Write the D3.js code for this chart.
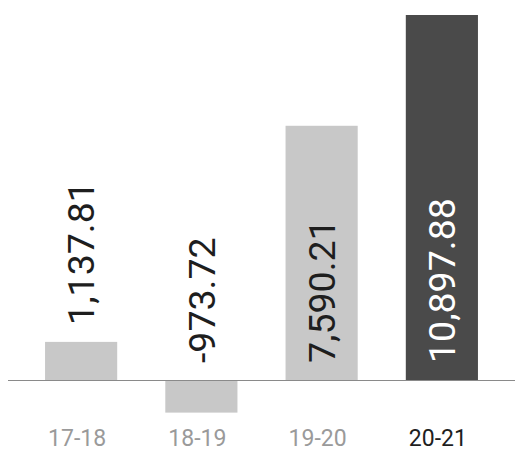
<!DOCTYPE html>
<html>
<head>
<meta charset="utf-8">
<script src="https://cdn.jsdelivr.net/npm/d3@7"></script>
<style>
  html, body { margin: 0; padding: 0; background: #fff; }
  svg { display: block; }
  text { font-family: Roboto, "Noto Sans", sans-serif; }
</style>
</head>
<body>
<svg id="chart" width="515" height="449"></svg>
<script>
const categories = ["17-18", "18-19", "19-20", "20-21"];
const values = [1137.81, -973.72, 7590.21, 10897.88];
const highlighted = ["20-21"];

const W = 515, H = 449;
const svg = d3.select("#chart");

const x = d3.scaleBand()
  .domain(categories)
  .range([21, 502])
  .paddingInner(0.4)
  .paddingOuter(0.2);

const y = d3.scaleLinear()
  .domain([0, 10897.88])
  .range([380, 15]);

const fmt = d3.formatLocale({decimal: ".", thousands: ",", grouping: [3], currency: ["", ""], minus: "-"}).format(",.2f");
const isHi = c => highlighted.includes(c);

// bars
svg.selectAll("rect.bar")
  .data(categories)
  .join("rect")
  .attr("class", "bar")
  .attr("x", c => x(c))
  .attr("width", x.bandwidth())
  .attr("y", (c, i) => Math.min(y(values[i]), y(0)))
  .attr("height", (c, i) => Math.abs(y(values[i]) - y(0)))
  .attr("fill", c => isHi(c) ? "#4a4a4a" : "#c8c8c8");

// baseline
svg.append("line")
  .attr("x1", 8).attr("x2", W)
  .attr("y1", y(0) + 0.5).attr("y2", y(0) + 0.5)
  .attr("stroke", "#8a8a8a")
  .attr("stroke-width", 1.2);

// value labels (rotated)
const labelSize = 37.5;
const capHalf = labelSize * 0.711 / 2;
const labels = svg.selectAll("text.val")
  .data(categories)
  .join("text")
  .attr("class", "val")
  .attr("font-size", labelSize)
  .attr("text-anchor", "start")
  .text((c, i) => fmt(values[i]));

labels.each(function(c, i) {
  const len = this.getComputedTextLength();
  const barH = Math.max(0, y(0) - y(values[i]));
  let yStart;
  if (barH > len + 30) {
    yStart = y(0) - 17;
  } else {
    yStart = Math.min(y(values[i]), y(0)) - 17;
  }
  const cx = x(c) + x.bandwidth() / 2;
  d3.select(this)
    .attr("transform", `translate(${cx + capHalf},${yStart}) rotate(-90)`)
    .attr("fill", isHi(c) ? "#ffffff" : "#1e1e1e");
});

// category labels
svg.selectAll("text.cat")
  .data(categories)
  .join("text")
  .attr("class", "cat")
  .attr("x", c => x(c) + x.bandwidth() / 2 - 4)
  .attr("y", 446)
  .attr("text-anchor", "middle")
  .attr("font-size", 23)
  .attr("fill", c => isHi(c) ? "#1e1e1e" : "#9a9a9a")
  .text(c => c);
</script>
</body>
</html>
